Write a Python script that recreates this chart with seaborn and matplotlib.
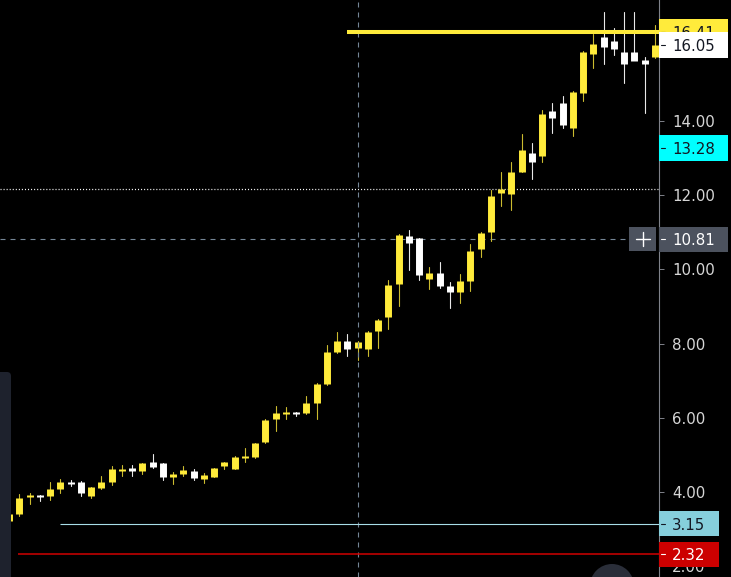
import numpy as np
import pandas as pd
import matplotlib
matplotlib.use("Agg")
import matplotlib.pyplot as plt
import seaborn as sns
from matplotlib.patches import Rectangle, FancyBboxPatch, Circle
from matplotlib.lines import Line2D
from matplotlib.transforms import Affine2D, blended_transform_factory

# ---------------- data ----------------
opens = [3.22, 3.41, 3.87, 3.92, 3.90, 4.08, 4.28, 4.28, 3.90, 4.11,
         4.28, 4.56, 4.64, 4.56, 4.80, 4.78, 4.41, 4.48, 4.56, 4.35,
         4.41, 4.70, 4.62, 4.91, 4.94, 5.34, 5.96, 6.10, 6.15, 6.12,
         6.39, 6.90, 7.78, 8.08, 7.89, 7.86, 8.35, 8.72, 9.61, 10.90,
         10.85, 9.75, 9.91, 9.56, 9.40, 9.69, 10.55, 11.00, 12.05, 12.03,
         12.64, 13.13, 13.05, 14.28, 14.49, 13.82, 14.77, 15.82, 16.27, 16.16,
         15.85, 15.85, 15.65, 15.73]
highs = [3.42, 3.95, 3.97, 3.93, 4.28, 4.35, 4.31, 4.29, 4.14, 4.44,
         4.70, 4.72, 4.72, 4.79, 5.02, 4.79, 4.54, 4.69, 4.61, 4.51,
         4.66, 4.82, 4.97, 5.18, 5.33, 5.98, 6.31, 6.28, 6.17, 6.58,
         6.95, 7.95, 8.32, 8.27, 8.07, 8.33, 8.66, 9.72, 10.95, 11.06,
         10.86, 10.07, 10.20, 9.67, 9.88, 10.68, 11.00, 12.13, 12.62, 12.91,
         13.66, 13.40, 14.31, 14.49, 14.68, 14.80, 15.90, 16.35, 16.94, 16.51,
         16.94, 16.94, 15.72, 16.60]
lows = [3.20, 3.36, 3.68, 3.76, 3.78, 3.98, 4.17, 3.90, 3.84, 4.08,
        4.20, 4.44, 4.44, 4.49, 4.66, 4.33, 4.22, 4.44, 4.33, 4.25,
        4.40, 4.62, 4.61, 4.80, 4.92, 5.31, 5.64, 5.96, 6.04, 6.10,
        5.96, 6.88, 7.76, 7.68, 7.57, 7.68, 7.89, 8.40, 9.02, 9.99,
        9.72, 9.48, 9.50, 8.97, 9.10, 9.42, 10.33, 10.76, 11.71, 11.60,
        12.62, 12.43, 12.91, 13.68, 13.82, 13.61, 14.55, 15.44, 15.54, 15.77,
        15.04, 15.74, 14.21, 15.70]
closes = [3.40, 3.84, 3.92, 3.87, 4.08, 4.28, 4.22, 3.97, 4.13, 4.28,
          4.62, 4.62, 4.56, 4.78, 4.67, 4.41, 4.48, 4.59, 4.38, 4.46,
          4.64, 4.80, 4.94, 4.97, 5.31, 5.93, 6.12, 6.15, 6.10, 6.39,
          6.90, 7.78, 8.08, 7.86, 8.05, 8.32, 8.65, 9.58, 10.93, 10.71,
          9.85, 9.91, 9.56, 9.40, 9.69, 10.50, 10.98, 11.97, 12.16, 12.62,
          13.21, 12.91, 14.20, 14.09, 13.90, 14.79, 15.85, 16.09, 16.00, 15.95,
          15.54, 15.62, 15.54, 16.05]

tick_values = [2, 4, 6, 8, 10, 12, 14, 16]
last_price = 16.05
alert_high = 16.41
level_cyan = 13.28
crosshair_price = 10.81
crosshair_index = 34
dotted_level = 12.17
level_blue = 3.15
level_red = 2.32
alert_high_start = 33
level_blue_start = 5
level_red_start = 0.9

# ---------------- style ----------------
sns.set_theme(style="dark", rc={"axes.facecolor": "black", "figure.facecolor": "black",
                                "axes.grid": False})
plt.rcParams["font.family"] = ["DejaVu Sans"]
plt.rcParams["lines.scale_dashes"] = False

YELLOW = "#ffeb3b"
W, H = 731, 577
fig = plt.figure(figsize=(W / 100, H / 100), dpi=100, facecolor="black")
AX_RIGHT = 658.5
ax = fig.add_axes([0, 0, AX_RIGHT / W, 1])
ax.set_facecolor("black")

n = len(opens)
idx = np.arange(n)
direction = ["up" if c >= o else "down" for o, c in zip(opens, closes)]
wick_df = pd.DataFrame({
    "candle": np.repeat(idx, 2),
    "x": np.repeat(idx, 2),
    "price": np.column_stack([lows, highs]).ravel(),
    "dir": np.repeat(direction, 2),
})
body_df = pd.DataFrame({
    "candle": np.repeat(idx, 2),
    "x": np.repeat(idx, 2),
    "price": np.column_stack([opens, closes]).ravel(),
    "dir": np.repeat(direction, 2),
})
wick_pal = {"up": "#cbbb2f", "down": "#e8e8e8"}
body_pal = {"up": YELLOW, "down": "#ffffff"}
sns.lineplot(data=wick_df, x="x", y="price", hue="dir", units="candle", estimator=None,
             sort=False, palette=wick_pal, linewidth=0.8, legend=False, ax=ax, zorder=3)
sns.lineplot(data=body_df, x="x", y="price", hue="dir", units="candle", estimator=None,
             sort=False, palette=body_pal, linewidth=5.0, legend=False, ax=ax, zorder=4,
             solid_capstyle="butt")

# pixel <-> data mapping for layout
PX0, STEP = 9.0, 10.25
xmin = (0 - PX0) / STEP
xmax = (AX_RIGHT - PX0) / STEP
ymin, ymax = 1.708, 17.265
ax.set_xlim(xmin, xmax)
ax.set_ylim(ymin, ymax)
ppu = H / (ymax - ymin)

# horizontal / vertical lines
ax.axhline(dotted_level, color="white", lw=0.9, ls=(0, (0.75, 1.45)), zorder=2)
ax.axhline(crosshair_price, color="#758696", lw=0.8, ls=(0, (3.6, 3.6)), zorder=2)
ax.axvline(crosshair_index, color="#758696", lw=0.8, ls=(0, (3.6, 3.6)), zorder=5)
ax.hlines(alert_high, alert_high_start - 0.02, xmax, color=YELLOW, lw=2.9, zorder=5)
ax.hlines(level_blue, level_blue_start, xmax, color="#a8dde8", lw=0.8, zorder=5)
ax.hlines(level_red, level_red_start, xmax, color="#d00000", lw=1.1, zorder=5)

# axes / ticks
for s in ["left", "top", "bottom"]:
    ax.spines[s].set_visible(False)
ax.spines["right"].set_color("#7f828a")
ax.spines["right"].set_linewidth(0.8)
ax.set_xticks([])
ax.yaxis.tick_right()
ax.set_yticks(tick_values)
ax.set_yticklabels([f"{v:.2f}" for v in tick_values])
ax.tick_params(axis="y", length=3.6, width=0.7, color="#7f828a", pad=6.2,
               labelsize=10.8, labelcolor="#d6d6d6", right=True)
ax.set_xlabel("")
ax.set_ylabel("")

tr = blended_transform_factory(fig.transFigure, ax.transData)


def price_label(value, bg, fg, right_px, z):
    h = 25.5 / ppu
    rect = Rectangle((AX_RIGHT / W, value - h / 2), (right_px - AX_RIGHT) / W, h,
                     transform=tr, facecolor=bg, edgecolor="none", clip_on=False, zorder=z)
    ax.add_artist(rect)
    ax.add_artist(Line2D([660.5 / W, 665 / W], [value, value], transform=tr, color=fg,
                         lw=0.8, clip_on=False, zorder=z + 0.1))
    ax.text(672 / W, value, f"{value:.2f}", transform=tr, ha="left",
            va="center_baseline", fontsize=10.8, color=fg, clip_on=False, zorder=z + 0.1)


price_label(alert_high, YELLOW, "#131722", 728, 9)
price_label(last_price, "#ffffff", "#131722", 728, 10)
price_label(level_cyan, "#00ffff", "#131722", 728, 9)
price_label(crosshair_price, "#4c525e", "#ffffff", 728, 9)
price_label(level_blue, "#86cfdc", "#131722", 719, 9)
price_label(level_red, "#cc0000", "#ffffff", 719, 9)

# "+" button next to crosshair price
hb = 24 / ppu
ax.add_artist(Rectangle((629 / W, crosshair_price - hb / 2), 27 / W, hb, transform=tr,
                        facecolor="#4c525e", edgecolor="none", clip_on=False, zorder=9))
ax.add_artist(Line2D([636 / W, 650 / W], [crosshair_price] * 2, transform=tr, color="white",
                     lw=1.0, clip_on=False, zorder=9.1))
ax.add_artist(Line2D([643 / W] * 2, [crosshair_price - 7 / ppu, crosshair_price + 7 / ppu],
                     transform=tr, color="white", lw=1.0, clip_on=False, zorder=9.1))

# UI decorations in pixel coordinates
pix = Affine2D().scale(0.01, -0.01).translate(0, H / 100) + fig.dpi_scale_trans
fig.add_artist(FancyBboxPatch((-6, 372), 17, 220, boxstyle="round,pad=0,rounding_size=4",
                              transform=pix, facecolor="#1e222d", edgecolor="none", zorder=20))
fig.add_artist(Circle((612, 586), 22, transform=pix, facecolor="#2a2e39",
                      edgecolor="none", zorder=20))

fig.savefig("out.png", dpi=100, facecolor="black")
